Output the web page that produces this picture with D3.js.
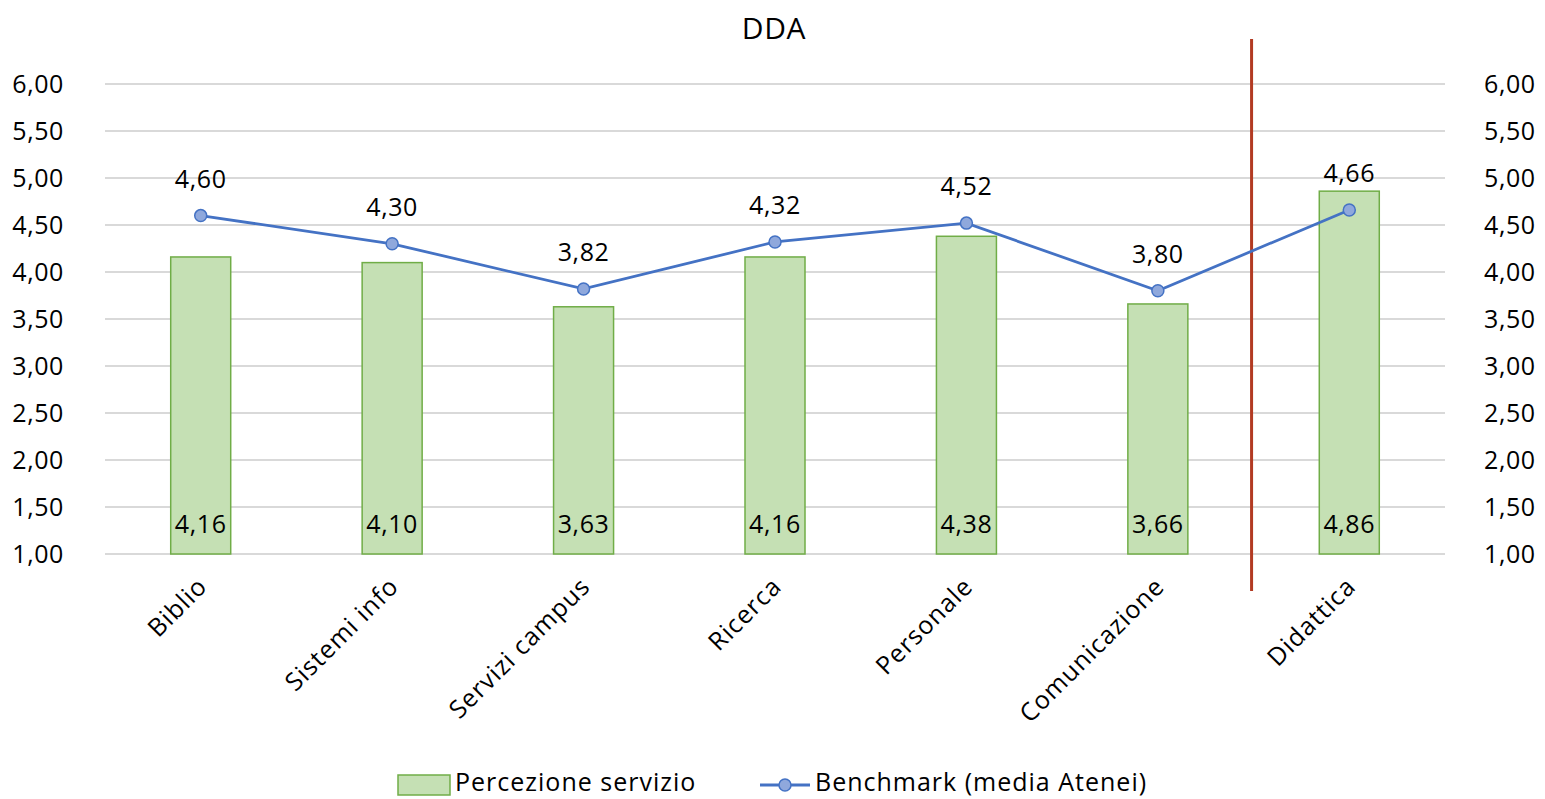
<!DOCTYPE html>
<html>
  <head>
    <meta charset="utf-8">
    <title>DDA</title>
    <script src="https://d3js.org/d3.v7.min.js"></script>
    <style>
      body { margin: 0; background: #fff; }
      text { font-family: "Open Sans", "Liberation Sans", sans-serif; fill: #000; letter-spacing: 0.6px; }
    </style>
  </head>
  <body>
    <div id="chart"></div>
    <script>
      // data
      var categories = ["Biblio", "Sistemi info", "Servizi campus", "Ricerca", "Personale", "Comunicazione", "Didattica"];
      var percezione = [4.16, 4.10, 3.63, 4.16, 4.38, 3.66, 4.86];
      var benchmark = [4.60, 4.30, 3.82, 4.32, 4.52, 3.80, 4.66];
      var yTicks = [1.00, 1.50, 2.00, 2.50, 3.00, 3.50, 4.00, 4.50, 5.00, 5.50, 6.00];

      var W = 1545, H = 799;
      var mLeft = 105, mRight = 1445, mTop = 84, mBottom = 554;
      var fmt = function(v) { return v.toFixed(2).replace(".", ","); };

      var svg = d3.select("#chart").append("svg")
        .attr("width", W)
        .attr("height", H);

      var x = d3.scaleBand().domain(categories).range([mLeft, mRight]).paddingInner(0).paddingOuter(0);
      var y = d3.scaleLinear().domain([1, 6]).range([mBottom, mTop]);
      var cx = function(i) { return x(categories[i]) + x.bandwidth() / 2; };

      // title
      svg.append("text")
        .attr("x", 774).attr("y", 39)
        .attr("text-anchor", "middle")
        .style("font-size", "30px")
        .text("DDA");

      // gridlines
      svg.append("g").selectAll("line")
        .data(yTicks)
        .enter().append("line")
        .attr("x1", mLeft).attr("x2", mRight)
        .attr("y1", function(d) { return y(d); })
        .attr("y2", function(d) { return y(d); })
        .attr("stroke", "#d9d9d9")
        .attr("stroke-width", 2);

      // left and right axes
      var yl = svg.append("g").attr("transform", "translate(" + (mLeft - 38) + ",0)")
        .call(d3.axisLeft(y).tickValues(yTicks).tickFormat(fmt).tickSize(0));
      var yr = svg.append("g").attr("transform", "translate(" + (mRight + 36) + ",0)")
        .call(d3.axisRight(y).tickValues(yTicks).tickFormat(fmt).tickSize(0));
      [yl, yr].forEach(function(a) {
        a.attr("font-family", null);
        a.select(".domain").remove();
        a.selectAll("text").style("font-size", "25px").attr("fill", "#000");
      });

      // bars
      var barW = 60;
      svg.append("g").selectAll("rect")
        .data(percezione)
        .enter().append("rect")
        .attr("x", function(d, i) { return cx(i) - barW / 2; })
        .attr("y", function(d) { return y(d); })
        .attr("width", barW)
        .attr("height", function(d) { return y(1) - y(d); })
        .attr("fill", "#c5e0b4")
        .attr("stroke", "#70ad47")
        .attr("stroke-width", 1.5);

      // bar labels
      svg.append("g").selectAll("text")
        .data(percezione)
        .enter().append("text")
        .attr("x", function(d, i) { return cx(i); })
        .attr("y", 533)
        .attr("text-anchor", "middle")
        .style("font-size", "25px")
        .text(fmt);

      // red separator
      svg.append("line")
        .attr("x1", x("Didattica") - 2).attr("x2", x("Didattica") - 2)
        .attr("y1", 39).attr("y2", 591)
        .attr("stroke", "#b23a22")
        .attr("stroke-width", 3);

      // benchmark line
      var line = d3.line()
        .x(function(d, i) { return cx(i); })
        .y(function(d) { return y(d); });
      svg.append("path")
        .datum(benchmark)
        .attr("d", line)
        .attr("fill", "none")
        .attr("stroke", "#4472c4")
        .attr("stroke-width", 2.8);
      svg.append("g").selectAll("circle")
        .data(benchmark)
        .enter().append("circle")
        .attr("cx", function(d, i) { return cx(i); })
        .attr("cy", function(d) { return y(d); })
        .attr("r", 6)
        .attr("fill", "#8fa8dc")
        .attr("stroke", "#4472c4")
        .attr("stroke-width", 1.5);
      svg.append("g").selectAll("text")
        .data(benchmark)
        .enter().append("text")
        .attr("x", function(d, i) { return cx(i); })
        .attr("y", function(d) { return y(d) - 28; })
        .attr("text-anchor", "middle")
        .style("font-size", "25px")
        .text(fmt);

      // category labels
      svg.append("g").selectAll("text")
        .data(categories)
        .enter().append("text")
        .attr("transform", function(d, i) {
          return "translate(" + (cx(i) + 8) + ",588) rotate(-45)";
        })
        .attr("text-anchor", "end")
        .style("font-size", "25px")
        .style("letter-spacing", "1px")
        .text(function(d) { return d; });

      // legend
      var lg = svg.append("g");
      lg.append("rect")
        .attr("x", 398).attr("y", 775).attr("width", 52).attr("height", 20)
        .attr("fill", "#c5e0b4").attr("stroke", "#70ad47").attr("stroke-width", 1.5);
      lg.append("text").attr("x", 455).attr("y", 791).style("font-size", "25px").style("letter-spacing", "1px").text("Percezione servizio");
      lg.append("line")
        .attr("x1", 760).attr("x2", 810).attr("y1", 785).attr("y2", 785)
        .attr("stroke", "#4472c4").attr("stroke-width", 2.8);
      lg.append("circle")
        .attr("cx", 785).attr("cy", 785).attr("r", 6)
        .attr("fill", "#8fa8dc").attr("stroke", "#4472c4").attr("stroke-width", 1.5);
      lg.append("text").attr("x", 815).attr("y", 791).style("font-size", "25px").style("letter-spacing", "1px").text("Benchmark (media Atenei)");
    </script>
  </body>
</html>
